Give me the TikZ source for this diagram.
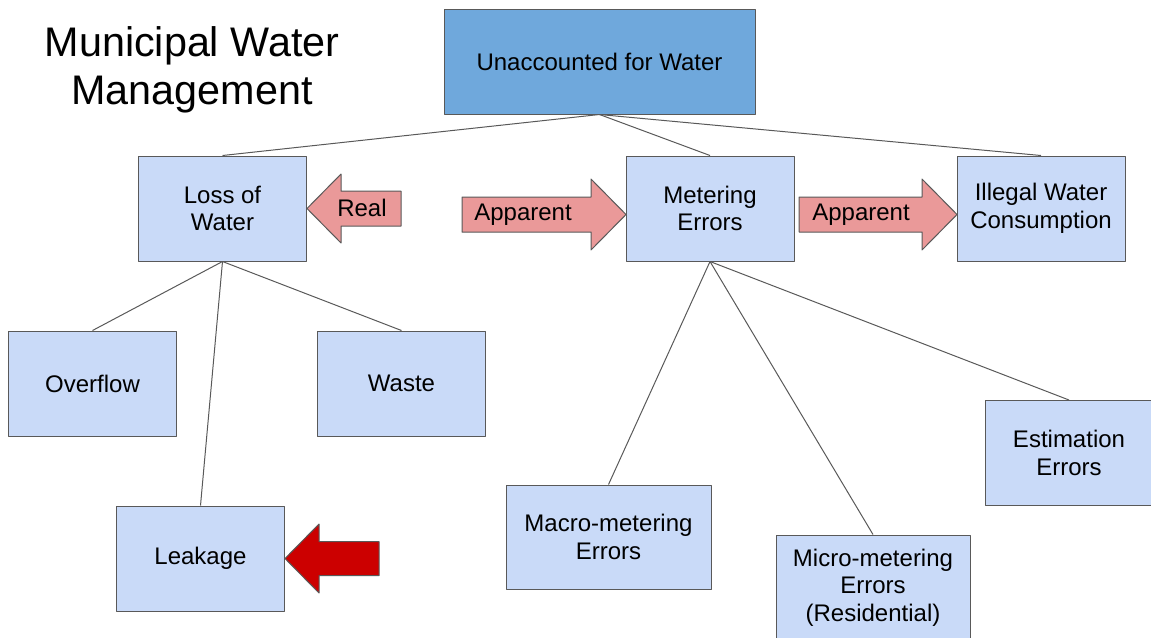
\documentclass[tikz,border=0pt]{standalone}
\usepackage{fontspec}
\setmainfont{Liberation Sans}
\definecolor{darkblue}{HTML}{6FA8DC}
\definecolor{lightblue}{HTML}{C9DAF8}
\definecolor{linegray}{HTML}{595959}
\definecolor{pinkarrow}{HTML}{EA9999}
\definecolor{redarrow}{HTML}{CC0000}
\tikzset{
  box/.style={draw=linegray, fill=lightblue, line width=0.75pt, align=center,
    minimum width=126pt, minimum height=78.75pt, inner sep=0pt},
  topbox/.style={box, fill=darkblue, minimum width=233.25pt},
  link/.style={draw=linegray, line width=0.75pt},
  fatarrow/.style={draw=linegray, line width=0.75pt, fill=pinkarrow}
}
\begin{document}
\begin{tikzpicture}[x=0.75pt, y=-0.75pt, line join=round, font=\fontsize{18}{20.7}\selectfont]
  \useasboundingbox (0,0) rectangle (1151,637);
  % title
  \node[align=center, font=\fontsize{31}{36}\selectfont] (title) at (192,70) {Municipal Water\\Management};
  % boxes
  \node[topbox] (uaw) at (599.5,61.5) {Unaccounted for Water};
  \node[box] (loss) at (222.5,208.5) {Loss of\\Water};
  \node[box] (meter) at (710,208.5) {Metering\\Errors};
  \node[box] (illegal) at (1041,208.5) {Illegal Water\\Consumption};
  \node[box] (overflow) at (92.5,383.5) {Overflow};
  \node[box] (waste) at (401.5,383.5) {Waste};
  \node[box] (leak) at (200.5,558.5) {Leakage};
  \node[box, minimum width=153.75pt, minimum height=78pt] (macro) at (608.5,537) {Macro-metering\\Errors};
  \node[box, minimum width=145.5pt] (micro) at (873,587.5) {Micro-metering\\Errors\\(Residential)};
  \node[box] (estim) at (1069,453) {Estimation\\Errors};
  % connectors
  \foreach \kid in {loss,meter,illegal}
    \draw[link] (uaw.south) -- (\kid.north);
  \foreach \kid in {overflow,leak,waste}
    \draw[link] (loss.south) -- (\kid.north);
  \foreach \kid in {macro,micro,estim}
    \draw[link] (meter.south) -- (\kid.north);
  % block arrows
  \draw[fatarrow] (307,208.5) -- (341,174) -- (341,191) -- (401,191) -- (401,226) -- (341,226) -- (341,243) -- cycle;
  \node (real) at (362,208) {Real};
  \draw[fatarrow] (462,197) -- (591,197) -- (591,179) -- (626,214.5) -- (591,250) -- (591,232) -- (462,232) -- cycle;
  \node (app1) at (523,215) {Apparent};
  \draw[fatarrow] (799,197) -- (922,197) -- (922,179) -- (957,214.5) -- (922,250) -- (922,232) -- (799,232) -- cycle;
  \node (app2) at (861,215) {Apparent};
  \draw[fatarrow, fill=redarrow] (285,558.5) -- (319,524) -- (319,541.5) -- (379,541.5) -- (379,575.5) -- (319,575.5) -- (319,593) -- cycle;
\end{tikzpicture}
\end{document}
